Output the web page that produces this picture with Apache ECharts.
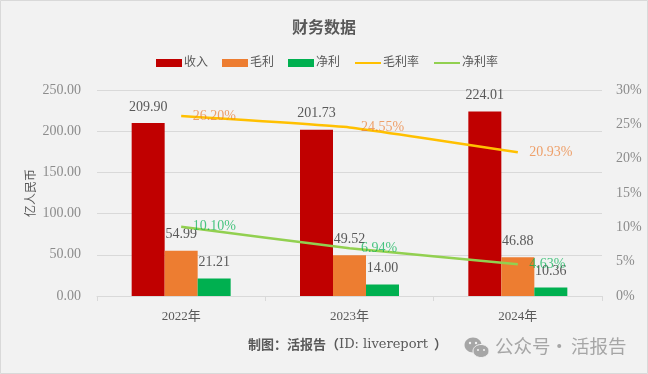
<!DOCTYPE html>
<html><head><meta charset="utf-8">
<style>html,body{margin:0;padding:0;background:#f2f2f2}#c{width:648px;height:374px}</style>
<script src="https://cdn.jsdelivr.net/npm/echarts@6/dist/echarts.min.js"></script>
</head><body><div id="c"></div>
<script>
const years = ['2022年','2023年','2024年'];
const revenue = [209.90,201.73,224.01];
const grossProfit = [54.99,49.52,46.88];
const netProfit = [21.21,14.00,10.36];
const grossMargin = [26.20,24.55,20.93];
const netMargin = [10.10,6.94,4.63];
const FONT = '"Liberation Serif","Noto Sans CJK SC",serif';
const chart = echarts.init(document.getElementById('c'),null,{renderer:'canvas'});
const barSeries=(name,data,color)=>({name,type:'bar',data,yAxisIndex:0,barWidth:33,barGap:0,
  itemStyle:{color},
  label:{show:true,position:'top',distance:9,color:'#595959',fontSize:14,fontFamily:FONT,formatter:p=>p.value.toFixed(2)}});
const lineSeries=(name,data,color,labelColor)=>({name,type:'line',data,yAxisIndex:1,smooth:0.1,symbol:'circle',symbolSize:1,showSymbol:true,z:5,
  lineStyle:{color,width:2.5},itemStyle:{color,opacity:0},
  label:{show:true,position:'right',distance:11,color:labelColor,opacity:0.7,fontSize:14,fontFamily:FONT,formatter:p=>p.value.toFixed(2)+'%'}});
chart.setOption({
  animation:false,
  backgroundColor:'#f2f2f2',
  title:{text:'财务数据',left:'center',top:16,textStyle:{color:'#595959',fontSize:16,fontWeight:'bold',fontFamily:FONT}},
  legend:{top:57,left:156,padding:0,itemWidth:26,itemHeight:8,itemGap:14,
    textStyle:{color:'#595959',fontSize:12,fontFamily:FONT,padding:[0,0,0,-3]},
    data:[{name:'收入',icon:'rect'},{name:'毛利',icon:'rect'},{name:'净利',icon:'rect'},{name:'毛利率'},{name:'净利率'}]},
  grid:{left:97,right:46,top:90,bottom:78},
  xAxis:{type:'category',data:years,
    axisLine:{lineStyle:{color:'#d9d9d9'}},
    axisTick:{show:true,length:5,lineStyle:{color:'#d9d9d9'}},
    axisLabel:{color:'#595959',fontSize:13,margin:14,fontFamily:FONT}},
  yAxis:[{type:'value',min:0,max:250,interval:50,name:'亿人民币',nameLocation:'middle',nameGap:59,nameMoveOverlap:false,
      nameTextStyle:{color:'#595959',fontSize:12,fontFamily:FONT},
      axisLine:{show:false},axisTick:{show:false},
      splitLine:{lineStyle:{color:'#d9d9d9'}},
      axisLabel:{color:'#8c8c8c',fontSize:14,margin:16,fontFamily:FONT,formatter:v=>v.toFixed(2)}},
    {type:'value',min:0,max:30,interval:5,
      axisLine:{show:false},axisTick:{show:false},splitLine:{show:false},
      axisLabel:{color:'#8c8c8c',fontSize:14,margin:14,fontFamily:FONT,formatter:'{value}%'}}],
  series:[barSeries('收入',revenue,'#c00000'),barSeries('毛利',grossProfit,'#ed7d31'),barSeries('净利',netProfit,'#00b050'),
    lineSeries('毛利率',grossMargin,'#ffc000','#ed7d31'),lineSeries('净利率',netMargin,'#92d050','#00b050')],
  graphic:[
    {type:'rect',silent:true,shape:{x:0.5,y:0.5,width:647,height:373},style:{fill:'none',stroke:'#d9d9d9',lineWidth:1}},
    {type:'text',left:248,top:338,style:{text:'制图\uFF1A活报告\uFF08',fill:'#595959',font:'bold 13px "Noto Sans CJK SC",sans-serif'}},
    {type:'text',left:339,top:338,style:{text:'ID: livereport',fill:'#595959',font:'13px "DejaVu Serif",serif'}},
    {type:'text',left:434,top:338,style:{text:'\uFF09',fill:'#595959',font:'bold 13px "Noto Sans CJK SC",sans-serif'}},
    {type:'text',left:495,top:337,style:{text:'公众号',fill:'#a6a6a6',font:'18.5px "Noto Sans CJK SC",sans-serif'}},
    {type:'text',left:550,top:337,style:{text:'·',fill:'#a6a6a6',font:'18.5px "Noto Sans CJK SC",sans-serif'}},
    {type:'text',left:571,top:337,style:{text:'活报告',fill:'#a6a6a6',font:'18.5px "Noto Sans CJK SC",sans-serif'}},
    {type:'ellipse',shape:{cx:473,cy:345,rx:8.5,ry:7.5},style:{fill:'#a6a6a6'}},
    {type:'ellipse',shape:{cx:481,cy:351,rx:8,ry:6.5},style:{fill:'#a6a6a6',stroke:'#f2f2f2',lineWidth:1}},
    {type:'circle',shape:{cx:470,cy:343,r:1.2},style:{fill:'#f2f2f2'}},
    {type:'circle',shape:{cx:476,cy:343,r:1.2},style:{fill:'#f2f2f2'}},
    {type:'circle',shape:{cx:478,cy:350,r:1},style:{fill:'#f2f2f2'}},
    {type:'circle',shape:{cx:484,cy:350,r:1},style:{fill:'#f2f2f2'}}
  ]
});
</script></body></html>
